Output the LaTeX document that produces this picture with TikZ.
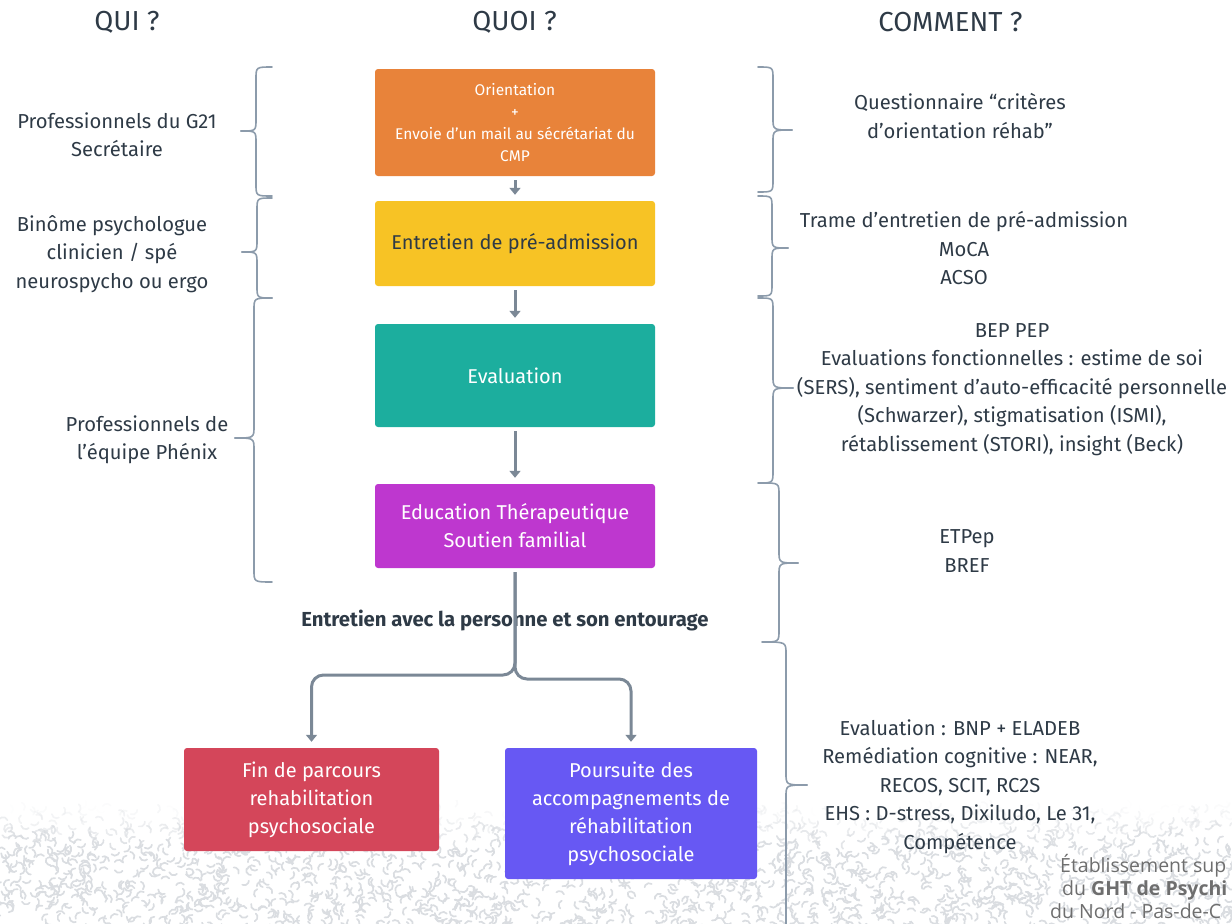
\documentclass[tikz,border=0pt]{standalone}
\usepackage{fontspec}
\setmainfont{Fira Sans}
\newfontfamily\wmfont{Open Sans}
\usetikzlibrary{arrows.meta}
\definecolor{txt}{HTML}{2E3A46}
\definecolor{arrc}{HTML}{7B8896}
\definecolor{brc}{HTML}{8C9BAB}
\definecolor{texc}{HTML}{DADDE1}
\definecolor{wmc}{HTML}{6E6E6E}
\definecolor{corange}{HTML}{E8833A}
\definecolor{cyellow}{HTML}{F7C325}
\definecolor{cteal}{HTML}{1CAE9E}
\definecolor{cmag}{HTML}{BE37CF}
\definecolor{cred}{HTML}{D4465A}
\definecolor{cpurp}{HTML}{6758F3}
\newcommand{\BraceShape}[6]{%
  \draw[brace] (#1,#4) .. controls (#2,#4) .. (#2,#4+12) -- (#2,#5-12) .. controls (#2,#5) .. (#3,#5);
  \draw[brace] (#3,#5) .. controls (#2,#5) .. (#2,#5+12) -- (#2,#6-12) .. controls (#2,#6) .. (#1,#6);}
\tikzset{
  box/.style={rounded corners=3pt, align=center, text=white, inner sep=0pt, font=\fontsize{20}{28}\selectfont},
  brace/.style={draw=brc, line width=1.6pt, line cap=round},
  arr/.style={draw=arrc, line width=3pt, -{Triangle[width=11pt,length=7pt]}, shorten >=6pt, shorten <=4pt},
  head/.style={text=txt, font=\fontsize{27.5}{30}\selectfont},
  body/.style={text=txt, align=center, inner sep=0pt, font=\fontsize{20.2}{28.5}\selectfont},
  texture/.style={draw=texc, line width=1.7pt, line cap=round},
  wm/.style={text=wmc, anchor=west, inner sep=0pt, font=\wmfont\fontsize{19.5}{24}\selectfont}
}
\begin{document}
\begin{tikzpicture}[x=1pt,y=-1pt]
\useasboundingbox (0,0) rectangle (1232,924);
% background texture
\begin{scope}
\clip (0,800) rectangle (1232,924);
\pgfmathsetseed{42}
\foreach \i in {1,...,2200}{
  \pgfmathsetmacro{\px}{rnd*1240}
  \pgfmathsetmacro{\py}{805+rnd*125}
  \pgfmathsetmacro{\a}{rnd*360}
  \pgfmathsetmacro{\op}{min(1,max(0,(\py-806)/40+0.3*(rnd-0.5)))}
  \draw[texture, opacity=\op] (\px,\py) arc[start angle=\a, end angle=\a+120, radius=4.5pt];
}
\end{scope}
% watermark
\node[wm] (wm1) at (1060,866) {Établissement sup};
\node[wm] (wm2) at (1062,890) {du \textbf{GHT de Psychi}};
\node[wm] (wm3) at (1050,911) {du Nord - Pas-de-C};
% headers
\node[head] (h1) at (127,22) {QUI ?};
\node[head] (h2) at (514.5,22) {QUOI ?};
\node[head] (h3) at (950.5,22) {COMMENT ?};
% boxes
\node[box, fill=corange, minimum width=280pt, minimum height=107pt, font=\fontsize{15.5}{21.7}\selectfont] (o) at (515,122.5)
  {Orientation\\+\\Envoie d’un mail au sécrétariat du\\CMP};
\node[box, fill=cyellow, text=txt, minimum width=280pt, minimum height=85pt] (y) at (515,243.5) {Entretien de pré-admission};
\node[box, fill=cteal, minimum width=280pt, minimum height=103pt] (t) at (515,375.5) {Evaluation};
\node[box, fill=cmag, minimum width=280pt, minimum height=84pt] (m) at (515,526) {Education Thérapeutique\\Soutien familial};
\node[box, fill=cred, minimum width=255pt, minimum height=103pt] (r) at (311.5,799.5) {Fin de parcours\\rehabilitation\\psychosociale};
\node[box, fill=cpurp, minimum width=252pt, minimum height=131pt] (p) at (631,813.5) {Poursuite des\\accompagnements de\\réhabilitation\\psychosociale};
% label
\node[text=txt, inner sep=0pt, font=\bfseries\fontsize{20.3}{22}\selectfont] (lbl) at (505,621) {Entretien avec la personne et son entourage};
% arrows
\draw[arr] (o) -- (y);
\draw[arr] (y) -- (t);
\draw[arr] (t) -- (m);
\coordinate (hl) at (0,675);
\coordinate (hr) at (0,679);
\draw[arr, rounded corners=12pt] (m.south) -- (m.south |- hl) -- (r.north |- hl) -- (r.north);
\draw[arr, rounded corners=12pt] (m.south) -- (m.south |- hr) -- (p.north |- hr) -- (p.north);
% left texts
\node[body] (q1) at (117,134.5) {Professionnels du G21\\Secrétaire};
\node[body] (q2) at (112,254) {Binôme psychologue\\clinicien / spé\\neurospycho ou ergo};
\node[body] (q3) at (147,440) {Professionnels de\\l’équipe Phénix};
% right texts
\node[body] (c1) at (960,116) {Questionnaire “critères\\d’orientation réhab”};
\node[body] (c2) at (964,248.5) {Trame d’entretien de pré-admission\\MoCA\\ACSO};
\node[body] (c3) at (1012,389.5) {BEP PEP\\Evaluations fonctionnelles : estime de soi\\(SERS), sentiment d’auto-efficacité personnelle\\(Schwarzer), stigmatisation (ISMI),\\rétablissement (STORI), insight (Beck)};
\node[body] (c4) at (967,551) {ETPep\\BREF};
\node[body] (c5) at (960,786.5) {Evaluation : BNP + ELADEB\\Remédiation cognitive : NEAR,\\RECOS, SCIT, RC2S\\EHS : D-stress, Dixiludo, Le 31,\\Compétence};
% braces left
\BraceShape{272}{256}{241}{67}{131}{196}
\BraceShape{272}{257}{242}{198}{252}{298}
\BraceShape{272}{254}{235}{298}{438}{582}
% braces right
\BraceShape{758}{773}{792}{67}{130}{192}
\BraceShape{758}{772}{788}{196}{248}{296}
\BraceShape{758}{773}{793}{298}{388}{483}
\BraceShape{762}{779}{798}{483}{563}{642}
\BraceShape{763}{786}{807}{642}{785}{940}
\end{tikzpicture}
\end{document}
